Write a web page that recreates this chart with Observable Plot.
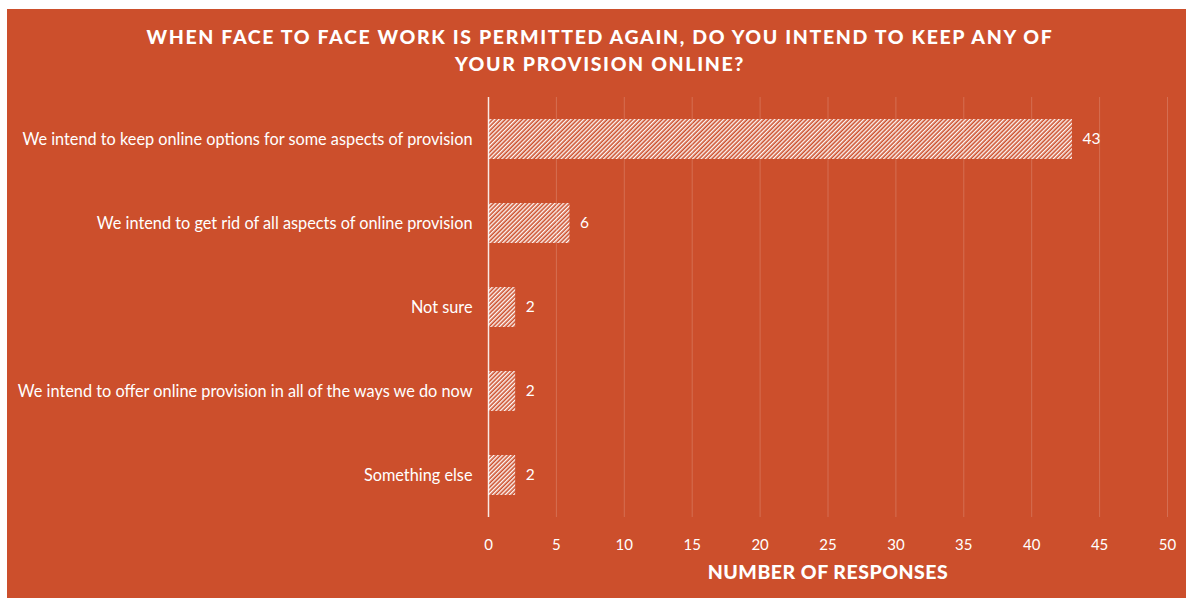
<!DOCTYPE html>
<html>
<head>
<meta charset="utf-8">
<script src="https://cdn.jsdelivr.net/npm/d3@7"></script>
<script src="https://cdn.jsdelivr.net/npm/@observablehq/plot@0.6"></script>
<style>
  html, body { margin: 0; padding: 0; background: #ffffff; width: 1186px; height: 598px; overflow: hidden; }
  #panel { position: absolute; left: 7px; top: 9px; width: 1179px; height: 589px; background: #CC4F2C; }
  #title { position: absolute; left: 0; top: 23px; width: 1200px; text-align: center; color: #ffffff;
           font-family: Lato, sans-serif; font-weight: 900; font-size: 19.5px; letter-spacing: 1.65px; line-height: 27px; }
  #xlabel { position: absolute; left: 628px; width: 400px; top: 560px; text-align: center; color: #ffffff;
           font-family: Lato, sans-serif; font-weight: 900; font-size: 19.5px; letter-spacing: 0.5px; }
  #chart { position: absolute; left: 7px; top: 80px; }
</style>
</head>
<body>
<div id="panel"></div>
<div id="title">WHEN FACE TO FACE WORK IS PERMITTED AGAIN, DO YOU INTEND TO KEEP ANY OF<br>YOUR PROVISION ONLINE?</div>
<div id="chart"></div>
<div id="xlabel">NUMBER OF RESPONSES</div>
<script>
const categories = [
  "We intend to keep online options for some aspects of provision",
  "We intend to get rid of all aspects of online provision",
  "Not sure",
  "We intend to offer online provision in all of the ways we do now",
  "Something else"
];
const responses = [43, 6, 2, 2, 2];
const xTicks = [0, 5, 10, 15, 20, 25, 30, 35, 40, 45, 50];

const data = categories.map((c, i) => ({category: c, value: responses[i]}));

const plot = Plot.plot({
  width: 1179,
  height: 518,
  marginLeft: 481,
  marginRight: 19,
  marginTop: 17,
  marginBottom: 81,
  style: {background: "transparent", color: "#ffffff", fontFamily: "Lato, sans-serif", fontSize: "15px"},
  x: {domain: [0, 50], ticks: xTicks, label: null},
  y: {domain: categories, label: null, paddingInner: 0.52, paddingOuter: 0.26},
  marks: [
    Plot.gridX(xTicks, {stroke: "#ffffff", strokeOpacity: 0.18, strokeWidth: 1}),
    Plot.axisX({ticks: xTicks, tickSize: 0, tickPadding: 22, fontSize: 15, fill: "#ffffff", label: null}),
    Plot.axisY({tickSize: 0, tickPadding: 16, fontSize: 16.3, fill: "#ffffff", label: null}),
    Plot.barX(data, {x: "value", y: "category", fill: "url(#hatch)"}),
    Plot.text(data, {x: "value", y: "category", text: d => String(d.value), textAnchor: "start", dx: 10, fill: "#ffffff", fontSize: 15.5}),
    Plot.ruleX([0], {stroke: "#ffffff", strokeOpacity: 0.85, strokeWidth: 1.5})
  ]
});

const svg = d3.select(plot);
const defs = svg.insert("defs", ":first-child");
const pat = defs.append("pattern")
  .attr("id", "hatch")
  .attr("patternUnits", "userSpaceOnUse")
  .attr("width", 3)
  .attr("height", 3)
  .attr("patternTransform", "rotate(45)");
pat.append("line")
  .attr("x1", 0).attr("y1", 0).attr("x2", 0).attr("y2", 3)
  .attr("stroke", "#ffffff").attr("stroke-width", 2.8).attr("stroke-opacity", 0.97);

document.getElementById("chart").appendChild(plot);
</script>
</body>
</html>
